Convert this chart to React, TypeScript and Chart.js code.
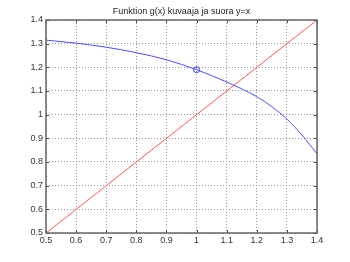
import React, { useEffect, useRef } from "react";
import { Chart, registerables } from "chart.js";

Chart.register(...registerables);

const TITLE = "Funktion g(x) kuvaaja ja suora y=x";
const curveX = [0.5, 0.6, 0.7, 0.8, 0.9, 1.0, 1.1, 1.2, 1.25, 1.3, 1.35, 1.4];
const curveY = [1.315, 1.302, 1.285, 1.262, 1.232, 1.19, 1.138, 1.076, 1.034, 0.981, 0.914, 0.834];
const lineX = [0.5, 1.4];
const lineY = [0.5, 1.4];
const markerX = [1.0];
const markerY = [1.19];
const ticks = [0.5, 0.6, 0.7, 0.8, 0.9, 1.0, 1.1, 1.2, 1.3, 1.4];

const FONT = "'Liberation Sans', Arial, sans-serif";

export default function App() {
  const ref = useRef<HTMLCanvasElement>(null);
  useEffect(() => {
    document.body.style.margin = "0";
    const boxPlugin = {
      id: "box",
      afterDraw(chart: any) {
        const { ctx, chartArea: a, scales } = chart;
        ctx.save();
        ctx.strokeStyle = "#444";
        ctx.lineWidth = 1;
        ctx.beginPath();
        for (const t of ticks) {
          const px = Math.round(scales.x.getPixelForValue(t)) + 0.5;
          ctx.moveTo(px, a.bottom);
          ctx.lineTo(px, a.bottom - 3);
          ctx.moveTo(px, a.top);
          ctx.lineTo(px, a.top + 3);
          const py = Math.round(scales.y.getPixelForValue(t)) + 0.5;
          ctx.moveTo(a.left, py);
          ctx.lineTo(a.left + 3, py);
          ctx.moveTo(a.right, py);
          ctx.lineTo(a.right - 3, py);
        }
        ctx.stroke();
        ctx.strokeStyle = "#666";
        ctx.lineWidth = 1.5;
        ctx.strokeRect(a.left, a.top, a.right - a.left, a.bottom - a.top);
        ctx.fillStyle = "#222";
        ctx.font = `9px ${FONT}`;
        ctx.textAlign = "center";
        ctx.textBaseline = "middle";
        ctx.fillText(TITLE, (a.left + a.right) / 2, 12);
        ctx.restore();
      },
    };
    const fmt = (v: any) => String(parseFloat(Number(v).toFixed(1)));
    const chart = new Chart(ref.current!, {
      type: "line",
      data: {
        datasets: [
          {
            data: curveX.map((x, i) => ({ x, y: curveY[i] })),
            borderColor: "#4d4dff",
            borderWidth: 1,
            pointRadius: 0,
            cubicInterpolationMode: "monotone",
            fill: false,
          },
          {
            data: lineX.map((x, i) => ({ x, y: lineY[i] })),
            borderColor: "#ff5555",
            borderWidth: 1,
            pointRadius: 0,
            fill: false,
          },
          {
            data: markerX.map((x, i) => ({ x, y: markerY[i] })),
            showLine: false,
            pointRadius: 3,
            pointStyle: "circle",
            pointBorderColor: "#3333ff",
            pointBackgroundColor: "rgba(0,0,0,0)",
            pointBorderWidth: 1,
          },
        ],
      },
      options: {
        animation: false,
        responsive: false,
        maintainAspectRatio: false,
        layout: { padding: { left: 0, right: 33, top: 20, bottom: 0 } },
        plugins: { legend: { display: false }, tooltip: { enabled: false }, title: { display: false } },
        scales: {
          x: {
            type: "linear",
            min: 0.5,
            max: 1.4,
            afterBuildTicks: (s: any) => { s.ticks = ticks.map((v) => ({ value: v })); },
            afterFit: (s: any) => { s.height = 29; },
            ticks: { callback: fmt, color: "#333", font: { family: FONT, size: 9 }, padding: 2, maxRotation: 0, autoSkip: false },
            grid: { color: "#999", drawTicks: false, lineWidth: 1 },
            border: { display: false, dash: [1, 2] },
          },
          y: {
            type: "linear",
            min: 0.5,
            max: 1.4,
            afterBuildTicks: (s: any) => { s.ticks = ticks.map((v) => ({ value: v })); },
            afterFit: (s: any) => { s.width = 46; },
            ticks: { callback: fmt, color: "#333", font: { family: FONT, size: 9 }, padding: 3, autoSkip: false },
            grid: { color: "#999", drawTicks: false, lineWidth: 1 },
            border: { display: false, dash: [1, 2] },
          },
        },
      },
      plugins: [boxPlugin],
    } as any);
    return () => chart.destroy();
  }, []);
  return (
    <div style={{ width: 350, height: 262, position: "relative" }}>
      <canvas ref={ref} width={350} height={262} style={{ display: "block" }} />
    </div>
  );
}
